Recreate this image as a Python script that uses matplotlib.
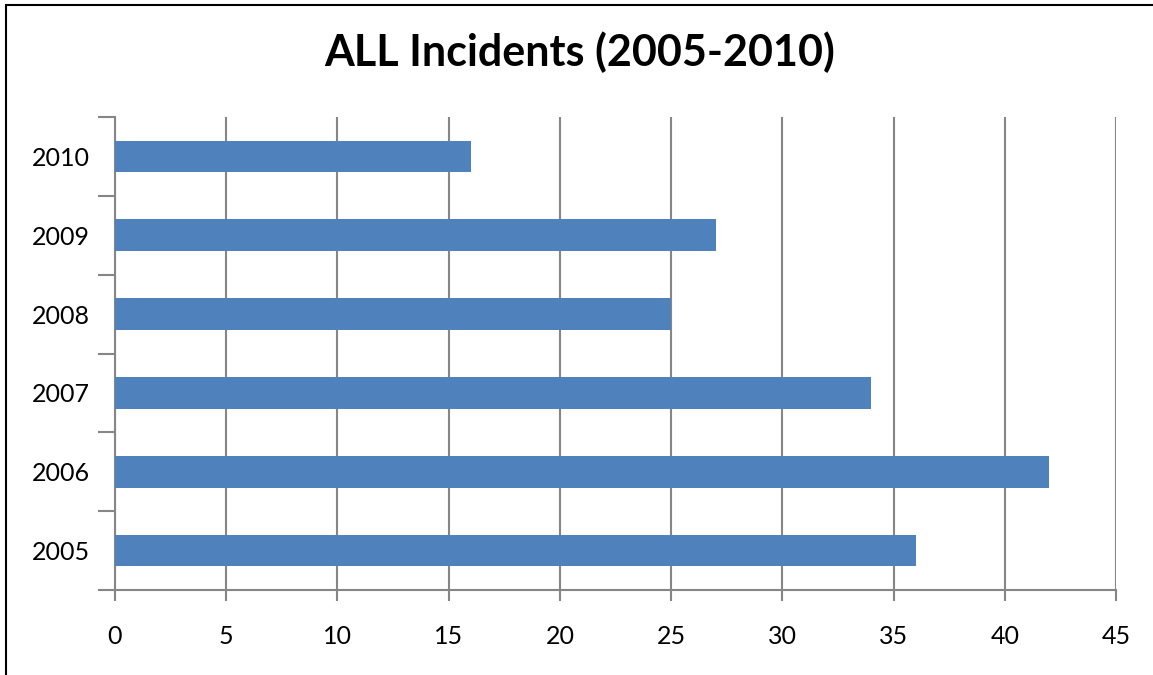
import matplotlib.pyplot as plt
import numpy as np
from matplotlib.patches import Rectangle

years = ["2005", "2006", "2007", "2008", "2009", "2010"]
incidents = [36, 42, 34, 25, 27, 16]
x_ticks = [0, 5, 10, 15, 20, 25, 30, 35, 40, 45]

plt.rcParams['font.family'] = ['Lato', 'DejaVu Sans']

fig = plt.figure(figsize=(11.53, 6.75), dpi=100)
ax = fig.add_axes([115 / 1153, 85 / 675, 1001 / 1153, 473 / 675])

pos = np.arange(len(years))
ax.barh(pos, incidents, height=0.4, color="#4F81BD", zorder=3)

ax.set_xlim(0, 45)
ax.set_ylim(-0.5, len(years) - 0.5)
ax.set_xticks(x_ticks)
ax.set_xticklabels([str(v) for v in x_ticks])
ax.set_yticks(pos)
ax.set_yticklabels(years)
ax.set_yticks(np.arange(len(years) + 1) - 0.5, minor=True)

grey = "#868686"
ax.grid(axis="x", color=grey, linewidth=1.5, zorder=0)
for side in ("top", "right"):
    ax.spines[side].set_visible(False)
for side in ("left", "bottom"):
    ax.spines[side].set_color(grey)
    ax.spines[side].set_linewidth(1.5)

ax.tick_params(axis="y", which="major", length=0, pad=18, labelsize=18)
ax.tick_params(axis="y", which="minor", length=12, width=1.5, color=grey)
ax.tick_params(axis="x", length=8, width=1.5, color=grey, pad=17, labelsize=18)

fig.text(0.503, 1 - 52 / 675, "ALL Incidents (2005-2010)", ha="center", va="center",
         fontsize=31, fontweight="bold")

# thin frame around the chart area
fig.patches.append(Rectangle((6 / 1153, -0.05), 1.2, 1 - 5 / 675 + 0.05,
                             transform=fig.transFigure, fill=False,
                             edgecolor="black", linewidth=1.5))

fig.savefig("out.png", dpi=100)
